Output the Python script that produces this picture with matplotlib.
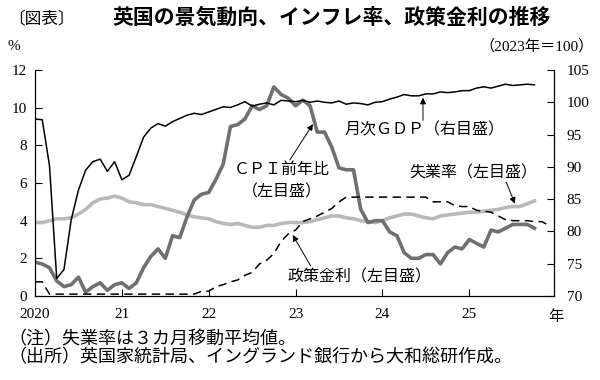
import numpy as np
import matplotlib.pyplot as plt

plt.rcParams['font.family'] = ['Liberation Serif', 'Noto Sans CJK JP']

# monthly, Jan 2020 onward
months = np.arange(70)
rate_months = np.arange(72)
year_ticks = [0, 12, 24, 36, 48, 60]
year_labels = ['2020', '21', '22', '23', '24', '25']

cpi = [1.8, 1.7, 1.5, 0.8, 0.5, 0.6, 1.0, 0.2, 0.5, 0.7, 0.3, 0.6,
       0.7, 0.4, 0.7, 1.5, 2.1, 2.5, 2.0, 3.2, 3.1, 4.2, 5.1, 5.4,
       5.5, 6.2, 7.0, 9.0, 9.1, 9.4, 10.1, 9.9, 10.1, 11.1, 10.7, 10.5,
       10.1, 10.4, 10.1, 8.7, 8.7, 7.9, 6.8, 6.7, 6.7, 4.6, 3.9, 4.0,
       4.0, 3.4, 3.2, 2.3, 2.0, 2.0, 2.2, 2.2, 1.7, 2.3, 2.6, 2.5,
       3.0, 2.8, 2.6, 3.5, 3.4, 3.6, 3.8, 3.8, 3.8, 3.6]

unemp = [3.9, 3.9, 4.0, 4.1, 4.1, 4.15, 4.35, 4.6, 4.95, 5.15, 5.2, 5.3,
         5.2, 5.0, 4.95, 4.85, 4.85, 4.75, 4.65, 4.55, 4.45, 4.3, 4.2, 4.15,
         4.1, 3.95, 3.85, 3.8, 3.85, 3.75, 3.65, 3.65, 3.75, 3.75, 3.85, 3.9,
         3.9, 3.9, 3.95, 4.05, 4.15, 4.25, 4.25, 4.15, 4.1, 4.0, 3.95, 3.9,
         4.0, 4.15, 4.25, 4.35, 4.35, 4.25, 4.15, 4.1, 4.25, 4.3, 4.35, 4.4,
         4.45, 4.45, 4.5, 4.55, 4.6, 4.7, 4.75, 4.75, 4.9, 5.05]

bank_rate = [0.75, 0.75] + [0.1] * 21 + [
    0.25, 0.25, 0.5, 0.6, 0.75, 0.85, 1.1, 1.25, 1.7, 1.9, 2.25, 2.9, 3.3,
    3.5, 3.95, 4.1, 4.25, 4.45, 4.65, 5.0] + [5.25] * 12 + [
    5.0, 5.0, 5.0, 4.8, 4.75, 4.75, 4.55, 4.5, 4.45, 4.25, 4.05, 4.0,
    4.0, 4.0, 3.95, 3.95, 3.75]

gdp = [97.4, 97.3, 90.2, 72.7, 74.1, 81.8, 86.4, 89.5, 90.8, 91.2, 89.3, 90.8,
       88.0, 88.7, 91.6, 94.6, 96.0, 96.7, 96.3, 97.0, 97.5, 98.0, 98.3, 98.1,
       98.5, 98.9, 99.3, 99.2, 99.6, 100.1, 99.4, 99.7, 99.9, 99.6, 100.3, 100.2,
       100.1, 100.3, 100.0, 100.2, 100.0, 99.9, 100.2, 99.7, 99.9, 99.8, 99.6, 100.0,
       100.1, 100.5, 100.8, 101.2, 101.0, 101.0, 101.3, 101.3, 101.6, 101.5, 101.6, 101.8,
       101.8, 102.2, 102.4, 102.2, 102.5, 102.8, 102.6, 102.7, 102.8, 102.7]

W, H = 600, 380
fig = plt.figure(figsize=(W / 100, H / 100), dpi=100)
ax = fig.add_axes([35 / W, 84 / H, 519 / W, 226 / H])
ax2 = ax.twinx()

ax.plot(months, unemp, color='#b9b9b9', lw=2.6, solid_joinstyle='round')
ax.plot(months, cpi, color='#707070', lw=2.6, solid_joinstyle='round')
ax.plot(rate_months, bank_rate, color='black', lw=1.1, dashes=(5.5, 3.5))
ax2.plot(months, gdp, color='black', lw=1.1)

ax.set_xlim(0, 71.7)
ax.set_ylim(0, 12)
ax2.set_ylim(70, 105)
ax.set_yticks(np.arange(0, 13, 2))
ax2.set_yticks(np.arange(70, 106, 5))
ax.set_xticks(year_ticks)
ax.set_xticklabels(year_labels)

for a in (ax, ax2):
    a.spines['top'].set_visible(False)
    for s in a.spines.values():
        s.set_linewidth(0.9)
ax.spines['right'].set_visible(False)
ax2.spines['left'].set_visible(False)
ax2.spines['bottom'].set_visible(False)

ax.tick_params(axis='y', direction='in', length=5, width=0.8, labelsize=11, pad=5.5)
ax.tick_params(axis='x', direction='in', length=5, width=0.8, labelsize=11, pad=8.5)
ax2.tick_params(axis='y', direction='in', length=5, width=0.8, labelsize=11, pad=9)

arrow = dict(arrowstyle='-|>', color='black', lw=0.7, mutation_scale=9,
             shrinkA=0, shrinkB=0)
fs = 11.5

# GDP label (right axis)
ax2.text(53.8, 95.7, '月次ＧＤＰ（右目盛）', fontsize=fs, ha='center', va='center')
ax2.annotate('', xy=(53.6, 100.7), xytext=(53.6, 97.2), arrowprops=arrow)

# CPI label
ax.text(34.1, 6.69, 'ＣＰＩ前年比', fontsize=fs, ha='center', va='center')
ax.text(34.1, 5.52, '（左目盛）', fontsize=fs, ha='center', va='center')
ax.annotate('', xy=(38.4, 9.13), xytext=(35.2, 7.22), arrowprops=arrow)

# unemployment label
ax.text(60.5, 6.53, '失業率（左目盛）', fontsize=fs, ha='center', va='center')
ax.annotate('', xy=(66.3, 4.9), xytext=(65.1, 6.05), arrowprops=arrow)

# bank rate label
ax.text(44.8, 1.01, '政策金利（左目盛）', fontsize=fs, ha='center', va='center')
ax.annotate('', xy=(35.6, 3.24), xytext=(38.1, 1.59), arrowprops=arrow)


def fx(px):
    return px / W


def fy(py):
    return 1 - py / H


fig.text(fx(8), fy(19), '〔図表〕', fontsize=12, va='center', ha='left')
fig.text(fx(112), fy(19), '英国の景気動向、インフレ率、政策金利の推移',
         fontsize=15, fontweight='bold', va='center', ha='left')
fig.text(fx(8), fy(46), '%', fontsize=11, va='center', ha='left')
fig.text(fx(594), fy(46), '（2023年＝100）', fontsize=11, va='center', ha='right')
fig.text(fx(556), fy(317), '年', fontsize=11, va='center', ha='center')
fig.text(fx(8), fy(340), '（注）失業率は３カ月移動平均値。', fontsize=13,
         va='center', ha='left')
fig.text(fx(8), fy(358), '（出所）英国家統計局、イングランド銀行から大和総研作成。',
         fontsize=13, va='center', ha='left')

fig.savefig('out.png', dpi=100)
